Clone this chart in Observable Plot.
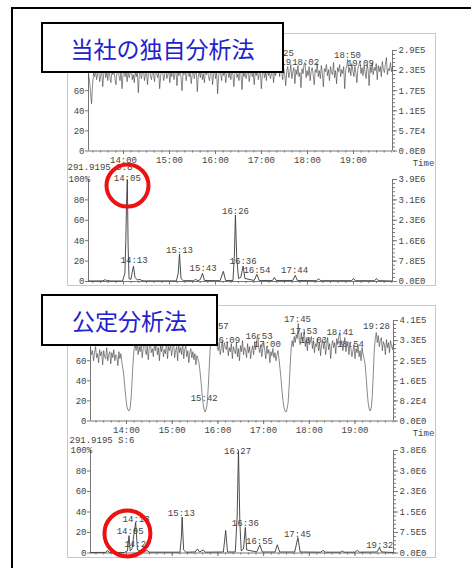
<!DOCTYPE html>
<html><head><meta charset="utf-8">
<script src="https://cdn.jsdelivr.net/npm/d3@7"></script>
<script src="https://cdn.jsdelivr.net/npm/@observablehq/plot@0.6"></script>
<style>
html,body{margin:0;padding:0;background:#fff;overflow:hidden;}
#wrap{position:relative;width:471px;height:568px;overflow:hidden;background:#fff;}
.outer{position:absolute;left:11px;top:7px;width:540px;height:640px;border:2px solid #000;box-sizing:border-box;}
.gframe{position:absolute;border:1px solid #c8c8c8;box-sizing:border-box;}
.panel{position:absolute;left:0;}
.panel svg{overflow:visible;}
.title{position:absolute;background:#fff;border:2px solid #000;color:#2222cc;font-family:"Noto Sans CJK JP";font-size:23px;display:flex;align-items:center;justify-content:center;z-index:5;box-sizing:border-box;}
</style></head>
<body><div id="wrap">
<div class="outer"></div>
<div class="gframe" style="left:67px;top:33px;width:369px;height:253px"></div>
<div class="gframe" style="left:67px;top:305px;width:369px;height:253px"></div>
<div class="panel" id="p1" style="top:40px"></div>
<div class="panel" id="p2" style="top:170px"></div>
<div class="panel" id="p3" style="top:310px"></div>
<div class="panel" id="p4" style="top:441px"></div>
<div class="title" style="left:41px;top:22px;width:243px;height:51px">当社の独自分析法</div>
<div class="title" style="left:41px;top:294px;width:177px;height:52px">公定分析法</div>
</div>
<script>
// ---- data ----
const hourTicks = [14,15,16,17,18,19];
const hourLabels = ["14:00","15:00","16:00","17:00","18:00","19:00"];
const pctTicks = [0,20,40,60,80,100];
const leftLabels = ["0","20","40","60","80","100"];
const right1 = ["0.0E0","5.7E4","1.1E5","1.7E5","2.3E5","2.9E5"];
const right2 = ["0.0E0","7.8E5","1.6E6","2.3E6","3.1E6","3.9E6"];
const right3 = ["0.0E0","8.2E4","1.6E5","2.5E5","3.3E5","4.1E5"];
const right4 = ["0.0E0","7.5E5","1.5E6","2.3E6","3.0E6","3.8E6"];

// panel 1: TIC (own method), sampled evenly over the run
const p1Range = [13.239, 19.848];
const p1Values = [
76,70,58,47,66,78,74,80,71,77,82,69,75,79,64,77,81,73,78,70,
84,74,68,79,76,81,72,66,78,83,75,70,79,62,76,82,74,78,69,80,
73,77,85,71,76,68,80,74,79,58,75,81,72,77,83,70,76,79,66,78,
82,74,71,80,76,69,84,77,73,79,62,75,81,78,70,77,86,72,76,80,
68,78,74,83,71,77,80,65,79,75,82,73,60,78,76,84,70,77,81,74,
79,67,76,83,72,78,80,59,75,79,73,85,71,77,68,80,76,82,74,70,
78,83,66,76,80,72,79,57,74,81,77,70,84,75,79,68,77,82,73,78,
71,80,76,64,79,85,73,77,70,82,76,61,78,74,80,72,77,84,69,76,
81,74,78,66,80,75,83,71,77,79,62,76,82,73,78,70,86,75,79,72,
77,83,68,80,75,79,84,88,74,92,78,71,82,76,65,80,84,73,78,86,
72,79,83,67,81,76,85,74,78,63,82,77,86,88,73,80,75,84,70,79,
83,76,66,81,78,87,74,80,72,85,77,64,82,79,86,75,81,70,84,78,
76,88,73,80,67,83,79,86,74,81,77,84,62,80,85,91,78,83,75,87,
80,74,84,78,68,82,86,90,77,83,75,85,79,72,86,81,65,84,78,88,
76,83,80,87,71,85,79,84,74,89,81,78,86,93,76,82,80,88,79,84];
const p1LabelText = ["17:25","17:19","18:02","18:50","19:09"];
const p1LabelT = [17.41,17.35,17.96,18.87,19.15];
const p1LabelV = [97,88,88,95,87];

// panel 2: m/z 291.9195 (own method)
const p2Trace = [[13.24,0.5],[13.55,0.6],[13.60,1.8],[13.63,0.8],[13.66,1.2],[13.70,0.5],[13.98,0.5],
[14.03,8],[14.05,40],[14.065,75],[14.083,100],[14.10,35],[14.12,3],[14.16,2],[14.19,9],[14.217,15],
[14.25,4],[14.30,1.5],[14.36,2],[14.40,0.8],[14.45,0.6],[15.15,0.6],[15.19,8],[15.217,27],[15.25,3],
[15.30,0.8],[15.52,0.8],[15.57,2],[15.62,0.8],[15.67,2],[15.717,8],[15.76,1],[16.10,0.8],[16.17,10],
[16.22,1],[16.38,1],[16.41,25],[16.433,65],[16.46,25],[16.50,3],[16.55,4],[16.60,15],[16.64,3],
[16.84,1],[16.90,7],[16.95,1],[17.24,1],[17.28,4],[17.32,1],[17.68,1],[17.733,6],[17.78,1],
[18.19,0.8],[18.24,2.5],[18.29,0.8],[18.96,0.8],[19.0,3],[19.04,0.8],[19.46,0.8],[19.5,3],[19.54,0.8],[19.85,0.5]];
const p2LabelText = ["14:05","14:13","15:13","15:43","16:26","16:36","16:54","17:44"];
const p2LabelT = [14.083,14.23,15.217,15.73,16.435,16.6,16.9,17.72];
const p2LabelV = [101,20.6,30.4,12.7,68.6,19.6,10.8,10.8];
const p2Circle = [{t:14.087, v:94}];

// panel 3: TIC (official method)
const p3Range = [13.212, 19.842];
const p3Values = [
72,66,70,60,68,74,63,67,58,71,65,69,56,70,64,62,73,60,66,69,
57,68,63,71,60,66,64,55,69,62,67,58,52,44,32,22,14,11,10,12,
22,40,58,72,76,70,80,66,74,69,78,63,72,84,70,66,75,61,73,79,
68,72,64,77,70,81,66,73,60,75,69,78,64,71,67,80,62,74,70,76,
65,72,79,63,70,74,60,77,68,73,66,79,62,71,75,64,70,58,68,72,
63,69,61,67,56,65,62,58,50,40,28,18,12,9,11,16,30,50,70,82,
76,86,80,90,84,74,70,78,66,72,80,68,78,74,71,79,65,73,69,77,
62,74,70,67,78,64,72,60,75,69,80,66,73,71,63,77,68,74,62,70,
75,66,79,71,80,86,73,68,76,64,72,78,70,62,74,67,71,58,69,65,
72,63,68,60,66,70,62,52,42,30,20,13,10,9,12,18,34,55,72,80,
74,84,78,86,82,97,80,76,88,79,84,90,74,81,70,83,76,79,84,72,
80,68,77,74,82,70,78,65,76,81,72,79,66,74,83,71,77,62,75,80,
73,78,67,82,76,84,88,75,80,70,77,83,69,74,79,66,78,72,64,70,
76,62,72,68,75,64,70,60,73,66,62,56,44,30,18,12,10,13,24,45,
70,82,88,78,85,74,80,83,70,79,76,66,81,73,78,68,80,75,71,77];
const p3LabelText = ["15:57","16:09","16:53","17:00","17:45","17:53","18:03","18:41","18:54","19:28","15:42"];
const p3LabelT = [15.94,16.19,16.9,17.08,17.74,17.88,18.09,18.67,18.9,19.47,15.7];
const p3LabelV = [94,80,84,77,101,89.5,80,88,77,94,22.5];

// panel 4: m/z 291.9195 (official method)
const p4Trace = [[13.21,0.5],[13.55,0.6],[13.58,2.5],[13.62,0.6],[13.95,0.5],[14.02,2],[14.055,17],[14.08,2],
[14.12,4],[14.2,30],[14.24,3],[14.38,1],[14.45,2.5],[14.5,0.8],[15.17,0.8],[15.2,15],[15.217,35],[15.25,3],
[15.3,0.8],[15.5,1],[15.55,4],[15.6,1],[15.68,3],[15.72,0.8],[16.12,1],[16.17,22],[16.21,1],[16.38,1],
[16.42,35],[16.45,100],[16.48,30],[16.51,2],[16.56,4],[16.6,25],[16.63,3],[16.85,1],[16.917,8],[16.97,1],
[17.25,1],[17.3,8],[17.35,1],[17.68,1],[17.75,15],[17.8,1],[18.25,0.8],[18.3,2.5],[18.35,0.8],[18.68,0.8],
[18.72,2],[18.76,0.8],[19.0,0.8],[19.05,2.5],[19.1,0.8],[19.48,1],[19.533,5],[19.58,1],[19.84,0.5]];
const p4LabelText = ["16:27","15:13","16:36","16:55","17:45","19:32","14:13","14:05","14:27"];
const p4LabelT = [16.43,15.2,16.6,16.91,17.74,19.54,14.21,14.08,14.25];
const p4LabelV = [99,38.5,28.8,11.2,18,7.3,32.7,21,8.5];
const p4Circle = [{t:14.02, v:19}];

// ---- drawing ----
const axisStroke = "#777", textFill = "#444", lineColor = "#3a3a3a";
const minorX = d3.range(79, 120).map(k => k / 6);
const minorY = d3.range(0, 101, 4);

function sampled(range, vals) {
  const step = (range[1] - range[0]) / (vals.length - 1);
  return vals.map((v, i) => ({t: range[0] + i * step, v}));
}
function pairs(tr) { return tr.map(([t, v]) => ({t, v})); }
function labels(txt, T, V) { return txt.map((s, i) => ({s, t: T[i], v: V[i]})); }

function makePanel(o) {
  const dom = o.xDomain;
  const marks = [
    Plot.ruleY([0], {stroke: axisStroke}),
    Plot.ruleX([dom[0]], {y1: 0, y2: 100, stroke: axisStroke}),
    Plot.ruleX([dom[1]], {y1: 0, y2: 100, stroke: axisStroke}),
    Plot.axisX({ticks: minorX.filter(d => d > dom[0] && d < dom[1]), tickSize: 2, tickFormat: () => "", stroke: axisStroke, label: null}),
    Plot.axisX({ticks: hourTicks, tickSize: 3.5, tickPadding: 2, stroke: axisStroke, fill: textFill, label: null,
      tickFormat: o.xLabels ? (d => hourLabels[hourTicks.indexOf(d)]) : () => ""}),
    Plot.axisY({anchor: "left", ticks: [0,20,40,60,80], tickSize: 3, tickPadding: 1, stroke: axisStroke, fill: textFill, label: null,
      tickFormat: d => leftLabels[pctTicks.indexOf(d)]}),
    Plot.axisY({anchor: "right", ticks: minorY, tickSize: 2, tickFormat: () => "", stroke: axisStroke, label: null}),
    Plot.axisY({anchor: "right", ticks: pctTicks, tickSize: 4, tickPadding: 2, stroke: axisStroke, fill: textFill, label: null,
      tickFormat: d => o.rightLabels[pctTicks.indexOf(d)]}),
    Plot.line(o.data, {x: "t", y: "v", stroke: lineColor, strokeWidth: o.sw}),
    Plot.text(o.labels, {x: "t", y: "v", text: "s", fill: textFill, lineAnchor: "middle"}),
    ...(o.extra || [])
  ];
  return Plot.plot({
    width: 471, height: o.height,
    marginTop: o.mt, marginBottom: o.mb, marginLeft: o.ml, marginRight: o.mr,
    x: {domain: dom, label: null}, y: {domain: [0, 100], label: null},
    style: {fontFamily: "Liberation Mono", fontSize: "9px", color: textFill, background: "transparent", overflow: "visible"},
    marks
  });
}

const circleStyle = {x: "t", y: "v", stroke: "#ee1111", strokeWidth: 4, fill: "none"};

document.getElementById("p1").append(makePanel({
  height: 135, mt: 10, mb: 24.5, ml: 88, mr: 79, xDomain: p1Range,
  data: sampled(p1Range, p1Values), sw: 0.6, xLabels: true, rightLabels: right1,
  labels: labels(p1LabelText, p1LabelT, p1LabelV),
  extra: [Plot.text(["Time"], {text: d => d, frameAnchor: "bottom-right", dx: 31, dy: 12.5, textAnchor: "middle", lineAnchor: "middle", fill: textFill})]
}));
document.getElementById("p2").append(makePanel({
  height: 121, mt: 9, mb: 10, ml: 88, mr: 79, xDomain: p1Range,
  data: pairs(p2Trace), sw: 0.9, xLabels: false, rightLabels: right2,
  labels: labels(p2LabelText, p2LabelT, p2LabelV),
  extra: [
    Plot.text(["291.9195 S:8"], {text: d => d, frameAnchor: "top-left", dx: -21, dy: -12, textAnchor: "start", lineAnchor: "middle", fill: textFill}),
    Plot.text(["100%"], {text: d => d, frameAnchor: "top-left", dx: -20, dy: 0, textAnchor: "start", lineAnchor: "middle", fill: textFill}),
    Plot.dot(p2Circle, {...circleStyle, r: 21})
  ]
}));
document.getElementById("p3").append(makePanel({
  height: 135, mt: 10, mb: 24.5, ml: 90, mr: 78, xDomain: p3Range,
  data: sampled(p3Range, p3Values), sw: 0.6, xLabels: true, rightLabels: right3,
  labels: labels(p3LabelText, p3LabelT, p3LabelV),
  extra: [Plot.text(["Time"], {text: d => d, frameAnchor: "bottom-right", dx: 30, dy: 12, textAnchor: "middle", lineAnchor: "middle", fill: textFill})]
}));
document.getElementById("p4").append(makePanel({
  height: 121, mt: 9, mb: 9.5, ml: 90, mr: 78, xDomain: p3Range,
  data: pairs(p4Trace), sw: 0.9, xLabels: false, rightLabels: right4,
  labels: labels(p4LabelText, p4LabelT, p4LabelV),
  extra: [
    Plot.text(["291.9195 S:6"], {text: d => d, frameAnchor: "top-left", dx: -21, dy: -10, textAnchor: "start", lineAnchor: "middle", fill: textFill}),
    Plot.text(["100%"], {text: d => d, frameAnchor: "top-left", dx: -20, dy: 0, textAnchor: "start", lineAnchor: "middle", fill: textFill}),
    Plot.dot(p4Circle, {...circleStyle, r: 23})
  ]
}));
</script>
</body></html>
